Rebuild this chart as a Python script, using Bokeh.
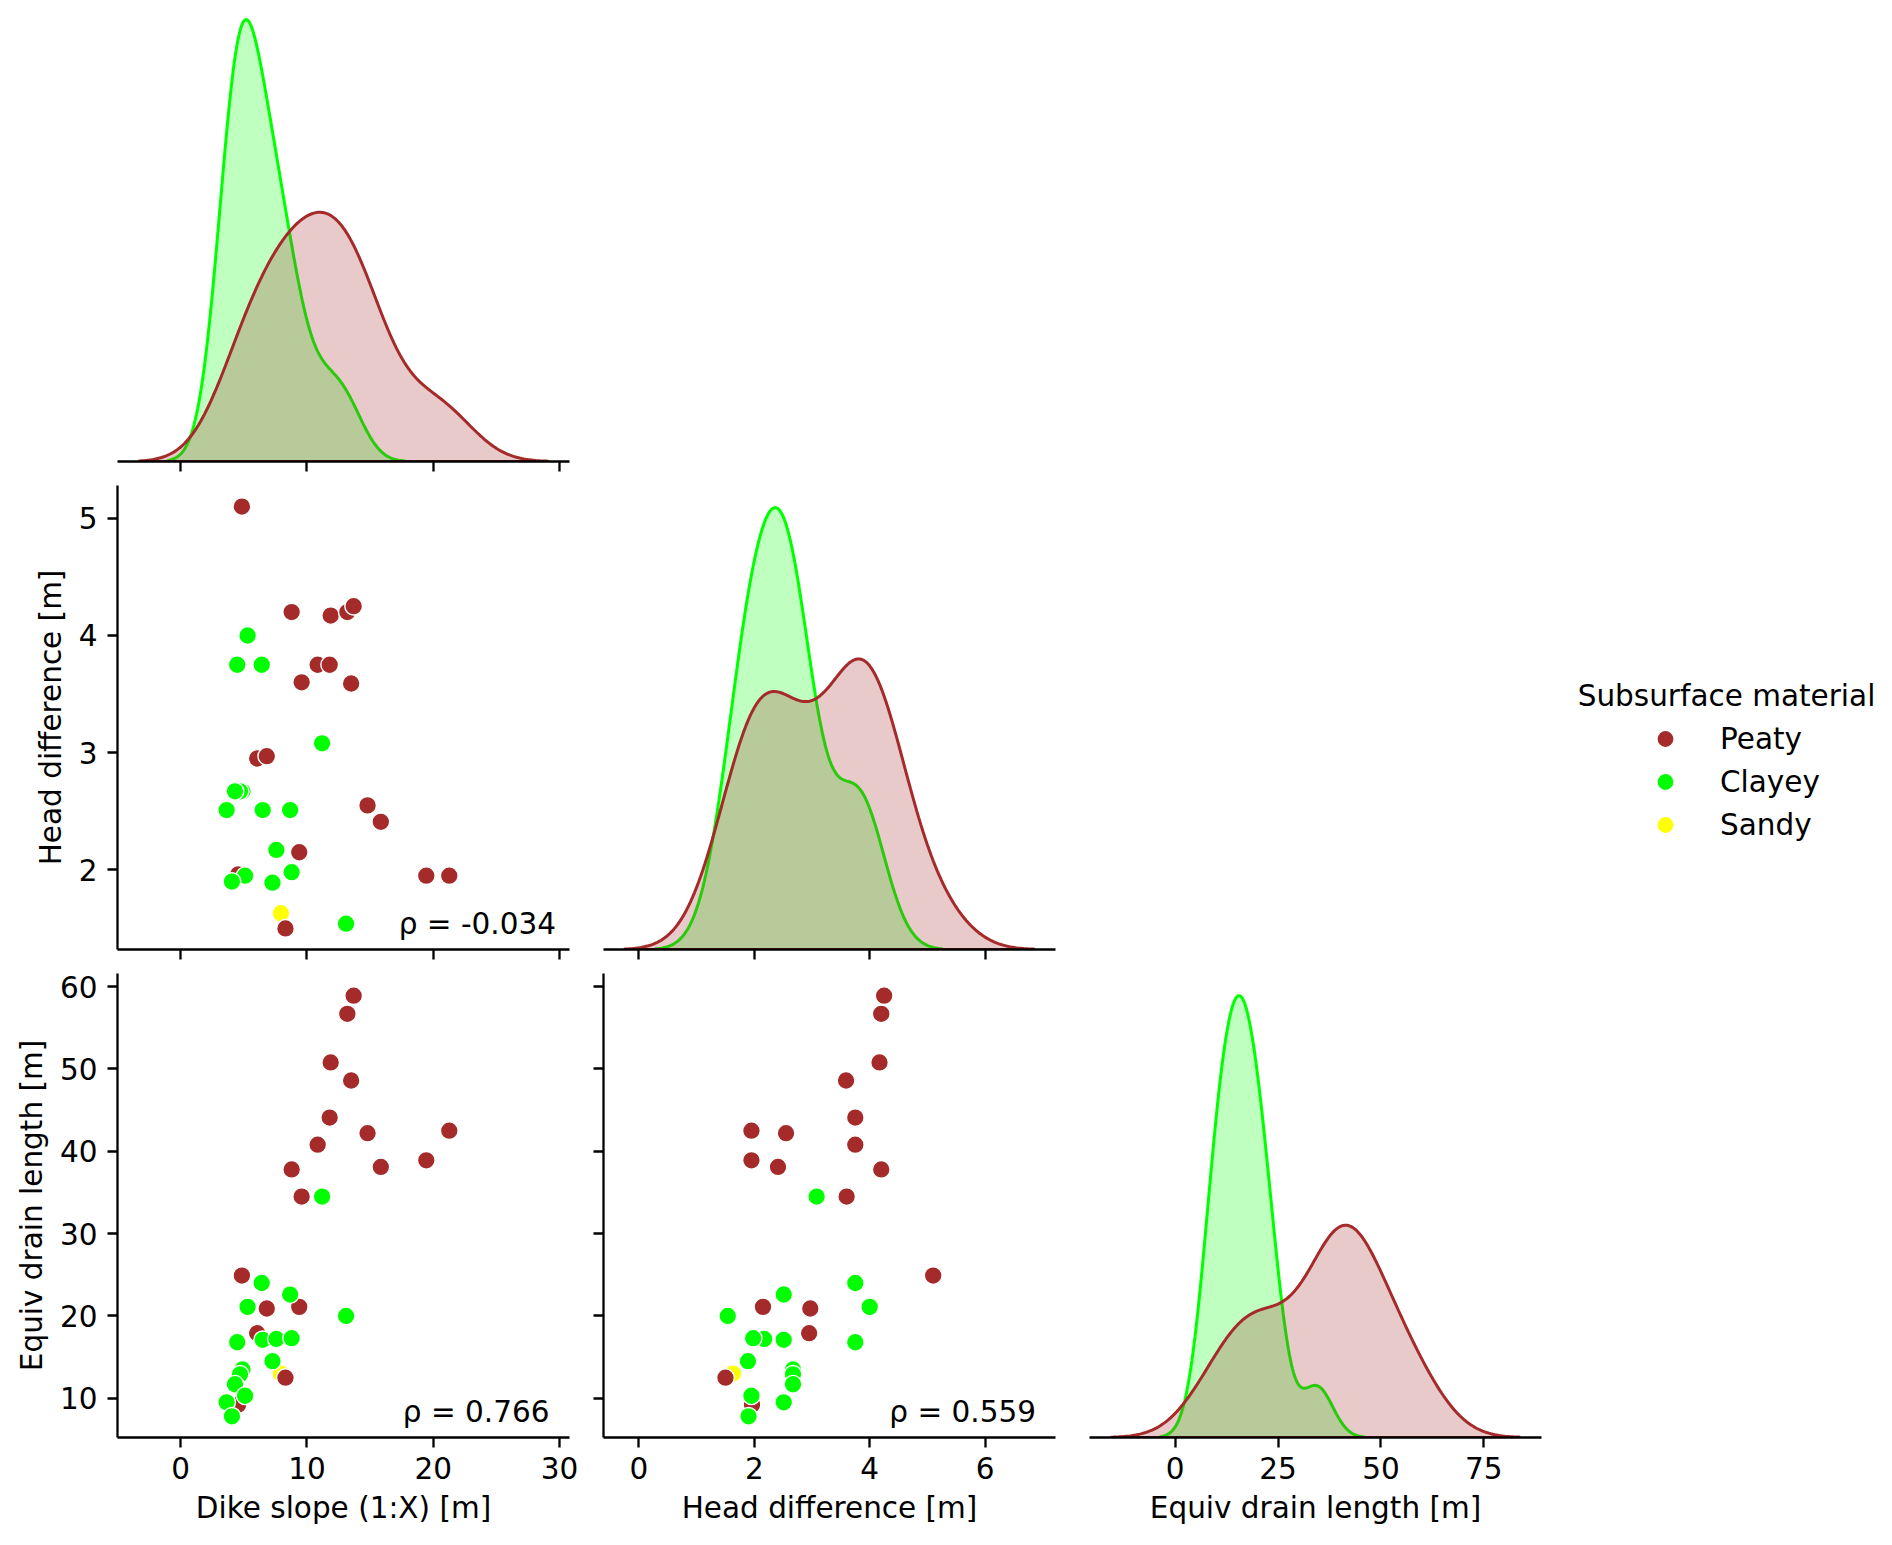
import numpy as np
from bokeh.plotting import figure
from bokeh.layouts import column, row
from bokeh.models import Range1d, FixedTicker, Label, Legend, LegendItem
from bokeh.embed import file_html
from bokeh.resources import INLINE

# ---------------- data ----------------
materials = ["Peaty", "Clayey", "Sandy"]
material_colors = ["#A52A2A", "#00FF00", "#FFFF00"]

peaty_slope = [4.85, 8.79, 11.88, 13.2, 13.7, 10.85, 11.8, 9.58, 13.5,
               6.06, 6.82, 14.8, 15.85, 9.39, 4.55, 19.45, 21.27, 8.3]
peaty_head = [5.10, 4.20, 4.17, 4.20, 4.25, 3.75, 3.75, 3.60, 3.59,
              2.95, 2.97, 2.55, 2.41, 2.15, 1.96, 1.95, 1.95, 1.50]
peaty_drain = [24.9, 37.8, 50.8, 56.7, 58.9, 40.8, 44.1, 34.5, 48.6,
               17.9, 20.9, 42.2, 38.1, 21.1, 9.2, 38.9, 42.5, 12.5]

clayey_slope = [5.3, 4.48, 6.42, 11.2, 4.9, 4.7, 4.3, 3.64, 6.5, 8.67,
                7.58, 8.79, 5.1, 4.06, 7.27, 13.1]
clayey_head = [4.00, 3.75, 3.75, 3.08, 2.67, 2.67, 2.67, 2.51, 2.51, 2.51,
               2.17, 1.98, 1.95, 1.90, 1.89, 1.54]
clayey_drain = [21.1, 16.8, 24.0, 34.5, 13.5, 12.9, 11.7, 9.5, 17.1, 22.6,
                17.2, 17.3, 10.3, 7.8, 14.5, 20.0]

sandy_slope = [7.94]
sandy_head = [1.63]
sandy_drain = [13.0]

var_labels = ["Dike slope (1:X) [m]", "Head difference [m]", "Equiv drain length [m]"]
rho_texts = {"slope_head": "ρ = -0.034", "slope_drain": "ρ = 0.766", "head_drain": "ρ = 0.559"}
legend_title = "Subsurface material"

slope_ticks = [0, 10, 20, 30]
head_ticks_x = [0, 2, 4, 6]
head_ticks_y = [2, 3, 4, 5]
drain_ticks_x = [0, 25, 50, 75]
drain_ticks_y = [10, 20, 30, 40, 50, 60]

# axis limits as seen in the reference
slope_range = (-5.0, 30.79)
head_range_x = (-0.614, 7.22)
drain_range_x = (-20.8, 89.0)
head_range_y = (1.32, 5.28)
drain_range_y = (5.23, 61.6)

groups = {
    "Peaty": (peaty_slope, peaty_head, peaty_drain),
    "Clayey": (clayey_slope, clayey_head, clayey_drain),
    "Sandy": (sandy_slope, sandy_head, sandy_drain),
}
color_of = dict(zip(materials, material_colors))
N_TOTAL = sum(len(v[0]) for v in groups.values())

FONT = "DejaVu Sans"
FS = "29.5px"
LW = 2.3

# ---------------- helpers ----------------
def kde_curve(vals):
    v = np.asarray(vals, dtype=float)
    n = v.size
    bw = v.std(ddof=1) * n ** (-1.0 / 5.0)
    grid = np.linspace(v.min() - 3 * bw, v.max() + 3 * bw, 200)
    z = (grid[:, None] - v[None, :]) / bw
    dens = np.exp(-0.5 * z ** 2).sum(axis=1) / (n * bw * np.sqrt(2 * np.pi))
    return grid, dens * n / N_TOTAL


def make_fig(xr, yr, width, height, bl, br, bt, bb, yaxis=True):
    p = figure(width=width, height=height,
               x_range=Range1d(*xr), y_range=Range1d(*yr),
               output_backend="svg", toolbar_location=None,
               min_border_left=bl, min_border_right=br,
               min_border_top=bt, min_border_bottom=bb,
               y_axis_location="left" if yaxis else None)
    p.grid.visible = False
    p.outline_line_color = None
    p.background_fill_color = "white"
    p.border_fill_color = "white"
    return p


def style_axis(ax, ticks, show_labels, label=None, x_axis=True):
    ax.ticker = FixedTicker(ticks=ticks)
    ax.axis_line_color = "black"
    ax.axis_line_width = LW
    ax.major_tick_line_color = "black"
    ax.major_tick_line_width = LW
    ax.major_tick_out = 10
    ax.major_tick_in = 0
    ax.minor_tick_line_color = None
    ax.major_label_text_font = FONT
    ax.major_label_text_color = "black"
    if show_labels:
        ax.major_label_text_font_size = FS
        ax.major_label_standoff = 9 if x_axis else 10
    else:
        ax.major_label_text_font_size = "0px"
        ax.major_label_standoff = 0
        ax.major_label_overrides = {t: "" for t in ticks}
    if label:
        ax.axis_label = label
        ax.axis_label_text_font = FONT
        ax.axis_label_text_font_size = FS
        ax.axis_label_text_font_style = "normal"
        ax.axis_label_text_color = "black"
        ax.axis_label_standoff = 9 if x_axis else 8


def add_scatter(p, xi, yi):
    for m in ["Sandy", "Peaty", "Clayey"]:
        vals = groups[m]
        p.scatter(vals[xi], vals[yi], size=17.7, fill_color=color_of[m],
                  line_color="white", line_width=1.4)


def add_kde(p, vi):
    top = 0
    for m in ["Clayey", "Peaty"]:
        g, d = kde_curve(groups[m][vi])
        top = max(top, d.max())
        xs = np.concatenate([g, g[::-1]])
        ys = np.concatenate([d, np.zeros_like(d)])
        p.patch(xs, ys, fill_color=color_of[m], fill_alpha=0.25,
                line_color=color_of[m], line_width=3)
    return top


def add_rho(p, xr, yr, text, right_px):
    p.add_layout(Label(x=xr[1] - right_px / 452.0 * (xr[1] - xr[0]),
                       y=yr[0] + 26.0 / 464 * (yr[1] - yr[0]),
                       text=text, text_align="right", text_baseline="alphabetic",
                       text_font=FONT, text_font_size=FS, text_color="black"))

# ---------------- layout sizes ----------------
FW = 452
L0, GAP_L, GAP_R = 117, 17, 17
ROW0_FH = 461

# row 0 : KDE of dike slope
f00 = make_fig(slope_range, (0, 1), L0 + FW + GAP_R, ROW0_FH + 12, L0, GAP_R, 0, 12, yaxis=False)
t0 = add_kde(f00, 0)
f00.y_range.end = 1.05 * t0 * ROW0_FH / 464.0
style_axis(f00.xaxis[0], slope_ticks, False)

# row 1
f10 = make_fig(slope_range, head_range_y, L0 + FW + GAP_R, 488, L0, GAP_R, 12, 12)
add_scatter(f10, 0, 1)
style_axis(f10.xaxis[0], slope_ticks, False)
style_axis(f10.yaxis[0], head_ticks_y, True, var_labels[1], x_axis=False)
add_rho(f10, slope_range, head_range_y, rho_texts["slope_head"], 13.5)

f11 = make_fig(head_range_x, (0, 1), GAP_L + FW + GAP_R, 488, GAP_L, GAP_R, 12, 12, yaxis=False)
t1 = add_kde(f11, 1)
f11.y_range.end = 1.05 * t1
style_axis(f11.xaxis[0], head_ticks_x, False)

LEGW, LEGH = 810, 488
leg = figure(width=LEGW, height=LEGH, x_range=Range1d(0, LEGW), y_range=Range1d(0, LEGH),
             output_backend="svg", toolbar_location=None, min_border=0,
             x_axis_location=None, y_axis_location=None)
leg.grid.visible = False
leg.outline_line_color = None
items = []
for m in materials:
    # legend proxy: a single NaN point, never drawn on the canvas
    r = leg.scatter(x=[np.nan], y=[np.nan], size=17, fill_color=color_of[m],
                    line_color="white", line_width=1.4)
    items.append(LegendItem(label=m, renderers=[r]))
legend = Legend(items=items, location=(571, 103), orientation="vertical",
                glyph_width=44, glyph_height=43, label_height=43, label_standoff=33,
                spacing=0, padding=0, margin=0,
                border_line_color=None, background_fill_alpha=0,
                label_text_font=FONT, label_text_font_size=FS, label_text_color="black")
leg.add_layout(legend)
leg.add_layout(Label(x=654, y=267, text=legend_title, text_align="center",
                     text_baseline="alphabetic", text_font=FONT, text_font_size=FS,
                     text_color="black"))

# row 2
BB = 98
f20 = make_fig(slope_range, drain_range_y, L0 + FW + GAP_R, 12 + 464 + BB, L0, GAP_R, 12, BB)
add_scatter(f20, 0, 2)
style_axis(f20.xaxis[0], slope_ticks, True, var_labels[0])
style_axis(f20.yaxis[0], drain_ticks_y, True, var_labels[2], x_axis=False)
add_rho(f20, slope_range, drain_range_y, rho_texts["slope_drain"], 20.0)

f21 = make_fig(head_range_x, drain_range_y, GAP_L + FW + GAP_R, 12 + 464 + BB, GAP_L, GAP_R, 12, BB)
add_scatter(f21, 1, 2)
style_axis(f21.xaxis[0], head_ticks_x, True, var_labels[1])
style_axis(f21.yaxis[0], drain_ticks_y, False, x_axis=False)
add_rho(f21, head_range_x, drain_range_y, rho_texts["head_drain"], 19.5)

f22 = make_fig(drain_range_x, (0, 1), GAP_L + FW + 10, 12 + 464 + BB, GAP_L, 10, 12, BB, yaxis=False)
t2 = add_kde(f22, 2)
f22.y_range.end = 1.05 * t2
style_axis(f22.xaxis[0], drain_ticks_x, True, var_labels[2])

layout = column(row(f00), row(f10, f11, leg), row(f20, f21, f22))

open("out.html", "w").write(file_html(layout, INLINE))
